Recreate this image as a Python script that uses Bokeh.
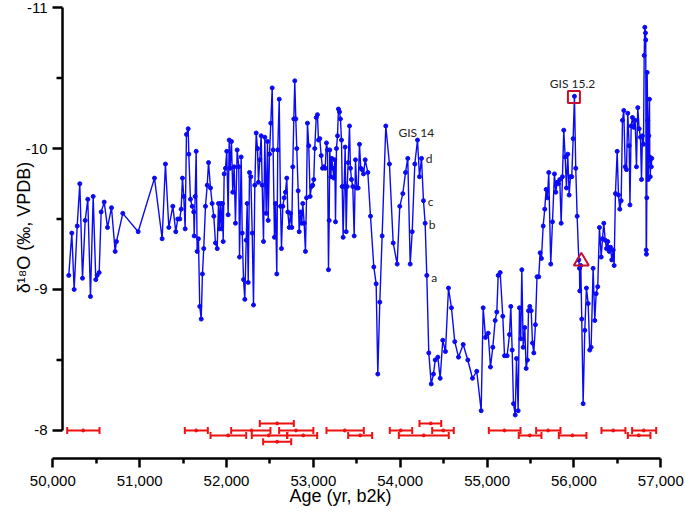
import numpy as np
from bokeh.plotting import figure
from bokeh.models import Range1d, FixedTicker, NumeralTickFormatter, ColumnDataSource
from bokeh.core.properties import value
from bokeh.embed import file_html
from bokeh.resources import INLINE

# ---- speleothem d18O record (age in yr b2k, d18O in permil VPDB) ----
age = [50184, 50219, 50246, 50281, 50311, 50342, 50373, 50403, 50434, 50465, 50495, 50511, 50534, 50557,
       50592, 50630, 50676, 50718, 50733, 50806, 50983, 51171, 51259, 51297, 51336, 51382, 51416, 51439,
       51462, 51478, 51493, 51508, 51524, 51539, 51559, 51566, 51585, 51605, 51623, 51628, 51639, 51651,
       51662, 51677, 51692, 51709, 51723, 51738, 51758, 51778, 51793, 51816, 51835, 51854, 51873, 51893,
       51908, 51919, 51931, 51942, 51954, 51962, 51973, 51988, 52003, 52019, 52031, 52042, 52057, 52072,
       52088, 52103, 52123, 52141, 52150, 52169, 52181, 52196, 52211, 52227, 52238, 52250, 52265, 52280,
       52296, 52311, 52326, 52342, 52357, 52368, 52383, 52399, 52411, 52426, 52441, 52457, 52472, 52480,
       52495, 52510, 52526, 52537, 52552, 52564, 52579, 52590, 52607, 52622, 52633, 52648, 52664, 52679,
       52694, 52706, 52722, 52737, 52752, 52763, 52775, 52786, 52798, 52809, 52825, 52837, 52852, 52867,
       52878, 52894, 52909, 52921, 52932, 52947, 52963, 52978, 52993, 53005, 53016, 53033, 53047, 53059,
       53074, 53090, 53105, 53120, 53136, 53151, 53163, 53174, 53182, 53189, 53201, 53212, 53224, 53235,
       53247, 53255, 53266, 53278, 53289, 53301, 53312, 53324, 53332, 53343, 53355, 53366, 53378, 53389,
       53401, 53416, 53427, 53439, 53454, 53470, 53485, 53500, 53516, 53531, 53546, 53562, 53577, 53597,
       53627, 53658, 53696, 53723, 53742, 53765, 53792, 53834, 53876, 53919, 53965, 53995, 54030, 54061,
       54087, 54115, 54138, 54168, 54199, 54222, 54245, 54268, 54287, 54306, 54329, 54357, 54383, 54403,
       54433, 54460, 54490, 54521, 54556, 54590, 54628, 54671, 54725, 54778, 54832, 54881, 54932, 54955,
       54982, 55013, 55039, 55066, 55093, 55112, 55128, 55151, 55181, 55201, 55231, 55258, 55273, 55289,
       55304, 55324, 55339, 55358, 55373, 55388, 55400, 55416, 55434, 55450, 55465, 55477, 55492, 55508,
       55523, 55538, 55557, 55575, 55595, 55611, 55626, 55646, 55664, 55680, 55695, 55710, 55733, 55753,
       55776, 55791, 55807, 55822, 55837, 55853, 55868, 55883, 55899, 55914, 55929, 55945, 55960, 55975,
       55991, 56006, 56021, 56037, 56056, 56064, 56067, 56079, 56090, 56106, 56125, 56144, 56164, 56182,
       56198, 56221, 56240, 56256, 56274, 56294, 56314, 56329, 56344, 56360, 56375, 56390, 56406, 56421,
       56436, 56452, 56463, 56478, 56498, 56513, 56528, 56544, 56559, 56574, 56590, 56605, 56620, 56636,
       56645, 56659, 56674, 56689, 56705, 56720, 56735, 56751, 56766, 56778, 56789, 56801, 56809, 56816,
       56824, 56827, 56832, 56835, 56839, 56843, 56850, 56855, 56862, 56870, 56873, 56879, 56885, 56891,
       56896]
d18o = [-9.10, -9.40, -9.00, -9.45, -9.75, -9.08, -9.49, -9.64, -8.95, -9.66, -9.07, -9.10, -9.12, -9.55,
        -9.62, -9.44, -9.58, -9.27, -9.34, -9.54, -9.41, -9.79, -9.36, -9.89, -9.44, -9.59, -9.41, -9.50,
        -9.50, -9.57, -9.79, -9.66, -9.43, -10.10, -10.14, -9.96, -9.64, -9.59, -9.55, -9.38, -9.66, -9.98,
        -9.27, -9.36, -8.88, -8.79, -9.11, -9.29, -9.59, -9.74, -9.90, -9.72, -9.61, -9.52, -9.33, -9.29,
        -9.61, -9.43, -9.61, -9.43, -9.61, -9.34, -9.82, -9.86, -9.98, -9.53, -10.06, -9.86, -10.05, -9.69,
        -9.87, -9.47, -9.99, -9.87, -9.23, -9.94, -9.40, -9.07, -8.93, -9.35, -9.61, -9.05, -9.83, -9.80,
        -9.40, -8.89, -9.74, -10.11, -10.00, -9.76, -9.92, -10.09, -9.74, -9.34, -10.08, -9.54, -10.05, -9.49,
        -9.96, -10.18, -10.43, -9.99, -9.37, -9.61, -9.11, -9.99, -10.35, -9.59, -9.29, -9.59, -9.65, -9.69,
        -9.79, -9.55, -9.44, -9.54, -9.44, -9.87, -10.21, -10.48, -10.21, -10.00, -9.70, -9.41, -9.55, -9.47,
        -9.61, -9.47, -9.27, -9.65, -10.18, -10.02, -9.66, -9.73, -9.74, -9.78, -10.00, -10.22, -10.24, -10.06,
        -10.07, -9.95, -9.86, -9.87, -9.86, -10.04, -9.99, -9.14, -9.49, -9.99, -9.80, -9.93, -9.86, -9.79,
        -9.92, -9.48, -10.00, -10.09, -10.28, -10.26, -10.21, -10.06, -9.73, -9.37, -9.73, -10.01, -9.41, -9.73,
        -9.90, -10.16, -9.86, -9.78, -9.73, -9.38, -9.92, -9.72, -9.72, -10.03, -9.86, -9.85, -9.82, -9.92,
        -9.83, -9.52, -9.16, -9.04, -8.40, -8.91, -9.38, -10.16, -9.89, -9.33, -9.18, -9.59, -9.68, -9.83,
        -9.93, -9.18, -9.41, -9.89, -10.06, -9.80, -9.93, -9.63, -9.47, -9.10, -8.55, -8.33, -8.40, -8.50,
        -8.52, -8.37, -8.64, -8.56, -9.01, -8.87, -8.63, -8.52, -8.61, -8.50, -8.37, -8.42, -8.14, -8.87,
        -8.66, -8.69, -8.45, -8.59, -8.78, -8.84, -9.10, -9.12, -8.81, -8.53, -8.53, -8.68, -8.88, -8.57,
        -8.19, -8.11, -8.51, -8.14, -8.87, -8.65, -9.14, -8.59, -8.73, -8.44, -8.50, -8.85, -8.88, -8.85,
        -8.62, -8.55, -8.75, -9.09, -9.09, -9.26, -9.22, -9.45, -9.57, -9.71, -9.65, -9.83, -9.18, -9.48,
        -9.82, -9.69, -9.76, -9.75, -9.78, -9.47, -9.80, -10.13, -9.94, -9.72, -9.96, -9.67, -9.80, -9.80,
        -10.07, -10.37, -9.86, -9.52, -9.21, -9.15, -8.99, -9.17, -8.79, -8.19, -8.71, -9.01, -8.90, -8.57,
        -8.59, -9.15, -8.78, -8.97, -9.02, -9.44, -9.23, -9.36, -9.47, -9.35, -9.29, -9.34, -9.27, -9.30,
        -9.21, -9.28, -9.17, -9.68, -9.98, -9.67, -9.57, -9.63, -10.20, -10.27, -9.87, -9.85, -10.25, -10.02,
        -9.60, -10.16, -10.22, -10.15, -10.20, -9.87, -10.29, -10.14, -10.08, -9.78, -10.09, -10.03, -10.66, -10.86,
        -10.82, -10.77, -9.28, -9.25, -9.65, -10.54, -10.20, -9.78, -10.09, -10.35, -9.94, -9.80, -9.93, -9.87,
        -9.93]

# ---- U-Th dates with 2-sigma ranges (plotted in stacked rows near -8) ----
date_age = [50350, 51651, 52019, 52288, 52487, 52583, 52583, 52800, 52883, 53362, 53539,
            54006, 54271, 54352, 54495, 55200, 55492, 55703, 55983, 56452, 56804, 56747]
date_lo = [50166, 51520, 51816, 52054, 52291, 52383, 52422, 52606, 52699, 53151, 53401,
           53880, 53984, 54222, 54368, 55020, 55365, 55565, 55826, 56317, 56670, 56620]
date_hi = [50538, 51785, 52227, 52506, 52699, 52775, 52745, 53000, 53044, 53581, 53677,
           54138, 54559, 54472, 54617, 55385, 55626, 55845, 56144, 56593, 56947, 56881]
date_row = [-8.0, -8.0, -7.965, -8.0, -7.965, -8.05, -7.92, -8.0, -7.965, -8.0, -7.965,
            -8.0, -7.965, -8.05, -8.0, -8.0, -7.965, -8.0, -7.965, -8.0, -8.0, -7.965]

# ---- axis ticks ----
x_ticks = [50000, 51000, 52000, 53000, 54000, 55000, 56000, 57000]
x_minor = [50500, 51500, 52500, 53500, 54500, 55500, 56500]
y_ticks = [-11, -10, -9, -8]
y_tick_labels = ["-11", "-10", "-9", "-8"]
y_minor = [-10.5, -9.5, -8.5]
y_axis_at = 50112          # the y axis crosses the x axis here (offset from 50,000)
y_label = "δ¹⁸O (‰, VPDB)"

# ---- annotations ----
ann_text = ["GIS 14", "d", "c", "b", "a", "GIS 15.2"]
ann_x = [53980, 54294, 54317, 54329, 54356, 55722]
ann_y = [-10.113, -9.927, -9.624, -9.461, -9.087, -10.459]
square_x, square_y = [56000], [-10.365]
tri_x, tri_y = [56085], [-9.20]

p = figure(width=685, height=514, output_backend="svg", toolbar_location=None,
           x_range=Range1d(49398, 57227), y_range=Range1d(-7.801, -11.05),
           min_border_left=0, min_border_right=5, min_border_top=0, min_border_bottom=56)
p.outline_line_color = None
p.grid.visible = False
p.yaxis.visible = False

AX_FONT = "Liberation Sans"
BLACK = "black"

# x axis (library axis)
xa = p.xaxis[0]
xa.ticker = FixedTicker(ticks=x_ticks, minor_ticks=x_minor)
xa.formatter = NumeralTickFormatter(format="0,0")
xa.bounds = (50000, 57000)
xa.axis_line_width = 2.5
xa.axis_line_color = BLACK
xa.major_tick_line_width = 2.5
xa.minor_tick_line_width = 2.5
xa.major_tick_in = 0
xa.minor_tick_in = 0
xa.major_tick_out = 9
xa.minor_tick_out = 5
xa.major_label_text_font = AX_FONT
xa.major_label_text_font_size = "15px"
xa.major_label_text_color = BLACK
xa.major_label_standoff = 8
xa.axis_label = "Age (yr, b2k)"
xa.axis_label_text_font = AX_FONT
xa.axis_label_text_font_size = "18px"
xa.axis_label_text_font_style = "normal"
xa.axis_label_text_color = BLACK
xa.axis_label_standoff = -3

# y axis, offset from the x-axis origin (drawn with glyphs in data space)
p.segment(x0=[y_axis_at], y0=[y_ticks[0]], x1=[y_axis_at], y1=[y_ticks[-1]],
          line_color=BLACK, line_width=2.5)
p.ray(x=[y_axis_at] * len(y_ticks), y=y_ticks, length=10, length_units="screen",
      angle=np.pi, line_color=BLACK, line_width=2.5)
p.ray(x=[y_axis_at] * len(y_minor), y=y_minor, length=6, length_units="screen",
      angle=np.pi, line_color=BLACK, line_width=2.5)
p.text(x=[y_axis_at] * len(y_ticks), y=y_ticks, text=y_tick_labels, x_offset=-15,
       text_align="right", text_baseline="middle", text_font=value(AX_FONT),
       text_font_size="15px", text_color=BLACK)
p.text(x=[y_axis_at], y=[-9.44], text=[y_label], x_offset=-39, angle=np.pi / 2,
       text_align="center", text_baseline="middle", text_font=value(AX_FONT),
       text_font_size="18px", text_color=BLACK)

src = ColumnDataSource(dict(age=age, d18o=d18o))
p.line("age", "d18o", source=src, line_color="#0a0af5", line_width=1.4)
p.scatter("age", "d18o", source=src, size=4, fill_color="#0a0af5", line_color="#0a0af5")

dsrc = ColumnDataSource(dict(age=date_age, lo=date_lo, hi=date_hi, row=date_row))
RED = "#ee1111"
p.segment(x0="lo", y0="row", x1="hi", y1="row", source=dsrc, line_color=RED, line_width=2)
p.scatter("lo", "row", source=dsrc, marker="dash", angle=np.pi / 2, size=7, line_color=RED, line_width=2)
p.scatter("hi", "row", source=dsrc, marker="dash", angle=np.pi / 2, size=7, line_color=RED, line_width=2)
p.scatter("age", "row", source=dsrc, size=3, fill_color=RED, line_color=RED)

p.text(x=ann_x, y=ann_y, text=ann_text, text_font=value("Lato"), text_font_size="12px",
       text_baseline="middle", text_align="left", text_color="#222222")
p.scatter(square_x, square_y, marker="square", size=12, fill_color=None, line_color="#c8102e", line_width=2)
p.scatter(tri_x, tri_y, marker="triangle", size=15, fill_color=None, line_color="#c8102e", line_width=2)

open("out.html", "w").write(file_html(p, INLINE))
